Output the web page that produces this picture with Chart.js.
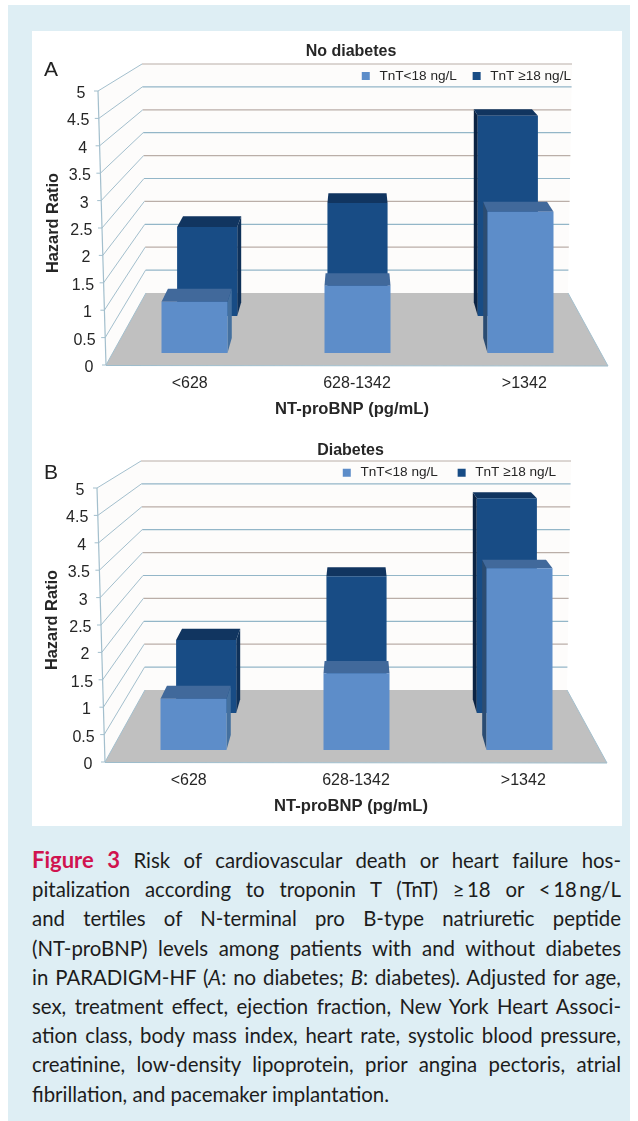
<!DOCTYPE html>
<html><head><meta charset="utf-8">
<script src="https://cdn.jsdelivr.net/npm/chart.js@4"></script>
<style>
html,body{margin:0;padding:0;background:#fff;width:638px;height:1121px;overflow:hidden}
#bg{position:absolute;left:8px;top:5px;width:622px;height:1116px;background:#deeef4}
#panel{position:absolute;left:32px;top:31px;width:590px;height:795px;background:#fff}
canvas{position:absolute;left:0;display:block}
.tag{position:absolute;font:21px "Liberation Sans",Arial,sans-serif;color:#222}
#cap{position:absolute;left:32px;top:845px;width:589px;font:20.4px/29.2px Lato,sans-serif;color:#1c1c1c}
#cap div{text-align:justify;text-align-last:justify;white-space:nowrap}
#cap div.last{text-align-last:left}
#cap b{color:#d0134f;font-size:22px;font-weight:700}
</style></head><body>
<div id="bg"></div><div id="panel"></div>
<canvas id="a" width="638" height="430" style="top:0"></canvas>
<canvas id="b" width="638" height="430" style="top:397px;left:-1px"></canvas>
<div class="tag" style="left:44px;top:57px">A</div>
<div class="tag" style="left:44px;top:460px">B</div>
<div id="cap">
<div><b>Figure 3</b> Risk of cardiovascular death or heart failure hos-</div>
<div>pitalization according to troponin T (TnT) ≥&thinsp;18 or &lt;&thinsp;18&thinsp;ng/L</div>
<div>and tertiles of N-terminal pro B-type natriuretic peptide</div>
<div>(NT-proBNP) levels among patients with and without diabetes</div>
<div>in PARADIGM-HF (<i>A</i>: no diabetes; <i>B</i>: diabetes). Adjusted for age,</div>
<div>sex, treatment effect, ejection fraction, New York Heart Associ-</div>
<div>ation class, body mass index, heart rate, systolic blood pressure,</div>
<div>creatinine, low-density lipoprotein, prior angina pectoris, atrial</div>
<div class="last">fibrillation, and pacemaker implantation.</div>
</div>
<script>
const categories = ['<628', '628-1342', '>1342'];
const seriesNames = ['TnT<18 ng/L', 'TnT ≥18 ng/L'];
const noDiabetesLow = [0.96, 1.26, 2.65];
const noDiabetesHigh = [1.83, 2.32, 4.11];
const diabetesLow = [0.96, 1.44, 3.41];
const diabetesHigh = [1.5, 2.81, 4.41];
const yMin = 0, yMax = 5, yStep = 0.5;

const FONT = 'Liberation Sans';
const INK = '#262626';
const C = {
  low:'#5d8dc9', lowTop:'#41699b', lowSide:'#44709f', lowSideL:'#2b4c72',
  high:'#184c85', highTop:'#113560', highSide:'#0f3159', highSideL:'#0b2343'
};
const depthX = 0.033, depthY = 0.0355, vanishX = 357, horizonY = -70;
const proj = (x,y) => [x + (vanishX-x)*depthX, y - (y-horizonY)*depthY];

function poly(ctx, pts, fill){
  ctx.beginPath();
  pts.forEach((p,i)=> i?ctx.lineTo(p[0],p[1]):ctx.moveTo(p[0],p[1]));
  ctx.closePath(); ctx.fillStyle = fill; ctx.fill();
}
function seg(ctx,x1,y1,x2,y2,color,w){
  ctx.beginPath();ctx.moveTo(x1,y1);ctx.lineTo(x2,y2);ctx.strokeStyle=color;ctx.lineWidth=w;ctx.stroke();
}
const place = (s,left,right,top,bottom) => {
  s.left=left;s.right=right;s.top=top;s.bottom=bottom;
  s.width=right-left;s.height=bottom-top;s.configure();
};

const chart3d = cfg => ({
  id:'chart3d',
  afterLayout(chart){
    const s = chart.scales;
    place(s.x,106,608,365,cfg.xBottom);
    s.x.left = cfg.xTitleCx-251; s.x.right = cfg.xTitleCx+251;
    place(s.y,cfg.yTitleLeft,98,91,365);
    s.y.top = cfg.yTitleCy-137; s.y.bottom = cfg.yTitleCy+137;
    place(s.yWall,0,0,64,293);
    place(s.xFront,113,602,0,0);
    place(s.xBack,132,583,0,0);
    place(s.yFront,0,0,86.5,353);
    place(s.yBack,0,0,72.5,316);
    const t = chart.titleBlock;
    const tb = t.bottom - t.top;
    t.top = cfg.titleY - tb/2; t.bottom = t.top + tb;
    t.left = 0; t.right = 2*cfg.titleCx;
    const l = chart.legend;
    const lh = l.bottom - l.top;
    l.left = 0; l.right = cfg.legendRight + cfg.legendPad;
    l.top = cfg.legendY - 6.8 - cfg.legendPad; l.bottom = l.top + lh;
  },
  beforeDraw(chart){
    const {ctx,scales:s} = chart;
    const fx = v => 106 - 8*v/yMax, bl = v => 146 - 4*v/yMax, br = v => 568 + 4*v/yMax;
    const y0 = s.y.getPixelForValue(0), b0 = s.yWall.getPixelForValue(0);
    const top = s.yWall.getPixelForValue(yMax), fTop = s.y.getPixelForValue(yMax);
    poly(ctx,[[fx(0),y0],[fx(yMax),fTop],[bl(yMax),top],[br(yMax),top],[br(0),b0],[bl(0),b0]],'#fdfcfb');
    s.y.ticks.forEach((t,i)=>{
      const v=t.value, y=s.y.getPixelForValue(v), w=s.yWall.getPixelForValue(v);
      if(v>0){
        seg(ctx,bl(v),w,br(v),w,i%2?'#93b6c8':'#baaea8',1.2);
        seg(ctx,fx(v),y,bl(v),w,'#a3bfcd',1);
      }
      seg(ctx,fx(v)-4,y,fx(v),y,'#a3bfcd',1);
      ctx.fillStyle=INK;ctx.font='16px "'+FONT+'"';ctx.textAlign='right';ctx.textBaseline='middle';
      ctx.fillText(t.label,fx(v)-(Number.isInteger(v)?12.5:9.5),y+2.5);
    });
    seg(ctx,fx(0),y0,fx(yMax),fTop,'#a3bfcd',1.2);
    poly(ctx,[[fx(0),y0],[608,y0+1],[br(0),b0],[bl(0),b0]],'#c0c0c0');
    seg(ctx,fx(0),y0+.5,608,y0+1,'#9dbccb',1.2);
    seg(ctx,fx(0),y0,bl(0),b0,'#a3bfcd',1);
    seg(ctx,608,y0+1,br(0),b0,'#a3bfcd',1);
  },
  beforeDatasetDraw(chart,{index,meta}){
    const ctx = chart.ctx, front = index===0;
    meta.data.forEach(el=>{
      const xl=el.x-el.width/2, xr=el.x+el.width/2, yt=el.y, yb=el.base;
      const tl=proj(xl,yt), tr=proj(xr,yt), bl=proj(xl,yb), br=proj(xr,yb);
      if(xl>vanishX) poly(ctx,[[xl,yt],tl,bl,[xl,yb]],front?C.lowSideL:C.highSideL);
      if(xr<vanishX) poly(ctx,[[xr,yt],tr,br,[xr,yb]],front?C.lowSide:C.highSide);
      poly(ctx,[[xl,yt],tl,tr,[xr,yt]],front?C.lowTop:C.highTop);
    });
  }
});

function build(id, title, low, high, cfg){
  return new Chart(document.getElementById(id),{
    type:'bar',
    plugins:[chart3d(cfg)],
    data:{labels:categories,datasets:[
      {label:seriesNames[0],data:low,backgroundColor:C.low,xAxisID:'xFront',yAxisID:'yFront',grouped:false,barPercentage:0.405,categoryPercentage:1,clip:false},
      {label:seriesNames[1],data:high,backgroundColor:C.high,xAxisID:'xBack',yAxisID:'yBack',grouped:false,barPercentage:0.4,categoryPercentage:1,clip:false}
    ]},
    options:{
      responsive:false,animation:false,devicePixelRatio:1,
      plugins:{
        tooltip:{enabled:false},
        title:{display:true,text:title,font:{family:FONT,size:16,weight:'bold'},color:INK,padding:0},
        legend:{display:true,position:'top',align:'end',
          labels:{usePointStyle:true,pointStyle:'rect',boxWidth:15,boxHeight:8,padding:cfg.legendPad,font:{family:FONT,size:13.6},color:INK}}
      },
      scales:{
        x:{type:'category',offset:true,labels:categories,grid:{display:false},border:{display:false},
           ticks:{font:{family:FONT,size:16},color:INK,padding:1,maxRotation:0},
           title:{display:true,text:'NT-proBNP (pg/mL)',font:{family:FONT,size:16.6,weight:'bold'},color:INK,padding:0}},
        y:{type:'linear',min:yMin,max:yMax,grid:{display:false},border:{display:false},
           ticks:{display:false,stepSize:yStep,callback:v=>String(v)},
           title:{display:true,text:'Hazard Ratio',font:{family:FONT,size:16.4,weight:'bold'},color:INK,padding:0}},
        yWall:{type:'linear',display:false,min:yMin,max:yMax},
        xFront:{type:'category',display:false,offset:true},
        xBack:{type:'category',display:false,offset:true},
        yFront:{type:'linear',display:false,min:yMin,max:yMax},
        yBack:{type:'linear',display:false,min:yMin,max:yMax}
      }
    }
  });
}
build('a','No diabetes',noDiabetesLow,noDiabetesHigh,{titleCx:351,titleY:52,legendRight:571,legendPad:13,legendY:76,xBottom:419,xTitleCx:352,yTitleLeft:44,yTitleCy:223});
build('b','Diabetes',diabetesLow,diabetesHigh,{titleCx:351.5,titleY:54,legendRight:557,legendPad:17,legendY:75.7,xBottom:419,xTitleCx:352,yTitleLeft:44,yTitleCy:223});
</script>
</body></html>
